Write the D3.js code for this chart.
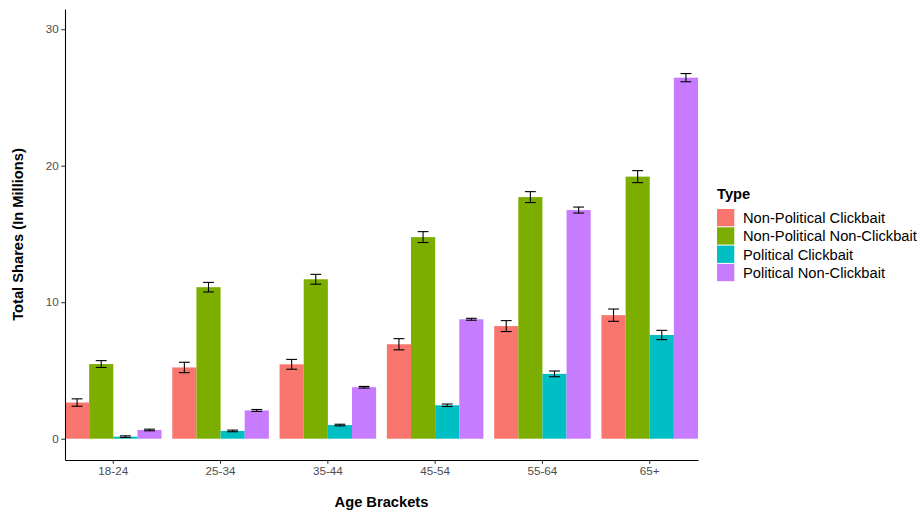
<!DOCTYPE html>
<html>
<head>
<meta charset="utf-8">
<script src="https://cdn.jsdelivr.net/npm/d3@7"></script>
<style>
  html, body { margin: 0; padding: 0; background: #fff; }
  svg { display: block; font-family: "Liberation Sans", Arial, Helvetica, sans-serif; }
</style>
</head>
<body>
<svg id="chart" width="920" height="512"></svg>
<script>
// Age brackets along the x axis
const ages = ["18-24", "25-34", "35-44", "45-54", "55-64", "65+"];
// Content types (legend order)
const types = ["Non-Political Clickbait", "Non-Political Non-Clickbait", "Political Clickbait", "Political Non-Clickbait"];
const typeColors = ["#F8766D", "#7CAE00", "#00BFC4", "#C77CFF"];

// Total shares (millions) per type, one value per age bracket
const nonPolClickbait    = [2.65, 5.22, 5.45, 6.92, 8.25, 9.05];
const nonPolNonClickbait = [5.47, 11.10, 11.68, 14.77, 17.70, 19.20];
const polClickbait       = [0.15, 0.57, 1.00, 2.45, 4.75, 7.60];
const polNonClickbait    = [0.64, 2.07, 3.77, 8.75, 16.75, 26.45];

// Half-width of the error bars (millions)
const errNonPolClickbait    = [0.27, 0.38, 0.36, 0.41, 0.40, 0.45];
const errNonPolNonClickbait = [0.25, 0.35, 0.36, 0.40, 0.40, 0.44];
const errPolClickbait       = [0.06, 0.06, 0.06, 0.09, 0.21, 0.34];
const errPolNonClickbait    = [0.06, 0.07, 0.06, 0.07, 0.22, 0.30];

const yTicks = [0, 10, 20, 30];

const seriesValues = [nonPolClickbait, nonPolNonClickbait, polClickbait, polNonClickbait];
const seriesErrors = [errNonPolClickbait, errNonPolNonClickbait, errPolClickbait, errPolNonClickbait];

const rows = [];
ages.forEach((age, i) => {
  types.forEach((t, j) => {
    rows.push({ age, type: t, value: seriesValues[j][i], err: seriesErrors[j][i], color: typeColors[j] });
  });
});

const svg = d3.select("#chart");
const panel = { left: 65, right: 698, top: 9, bottom: 460 };

const x = d3.scaleBand().domain(ages).range([panel.left, panel.right]).paddingInner(0.1).paddingOuter(0);
const xInner = d3.scaleBand().domain(types).range([0, x.bandwidth()]).padding(0);
const y = d3.scaleLinear().domain([-1.56, 31.48]).range([panel.bottom, panel.top]);

// Bars
svg.append("g").selectAll("rect").data(rows).join("rect")
  .attr("x", d => x(d.age) + xInner(d.type))
  .attr("width", xInner.bandwidth())
  .attr("y", d => y(d.value))
  .attr("height", d => y(0) - y(d.value))
  .attr("fill", d => d.color);

// Error bars
const capHalf = xInner.bandwidth() * 0.225;
const eb = svg.append("g").attr("stroke", "#000").attr("stroke-width", 1.1).attr("fill", "none");
rows.forEach(d => {
  const cx = x(d.age) + xInner(d.type) + xInner.bandwidth() / 2;
  const yHi = y(d.value + d.err), yLo = y(d.value - d.err);
  eb.append("line").attr("x1", cx).attr("x2", cx).attr("y1", yHi).attr("y2", yLo);
  eb.append("line").attr("x1", cx - capHalf).attr("x2", cx + capHalf).attr("y1", yHi).attr("y2", yHi);
  eb.append("line").attr("x1", cx - capHalf).attr("x2", cx + capHalf).attr("y1", yLo).attr("y2", yLo);
});

// Axes
const yAxis = svg.append("g").attr("transform", `translate(${panel.left},0)`)
  .call(d3.axisLeft(y).tickValues(yTicks).tickSize(3.7).tickSizeOuter(0).tickPadding(2.5));
const xAxis = svg.append("g").attr("transform", `translate(0,${panel.bottom})`)
  .call(d3.axisBottom(x).tickSize(3.7).tickSizeOuter(0).tickPadding(2.5));

[yAxis, xAxis].forEach(g => {
  g.select(".domain").attr("stroke", "#000").attr("stroke-width", 1.07);
  g.selectAll(".tick line").attr("stroke", "#333").attr("stroke-width", 1.07);
  g.selectAll(".tick text").attr("fill", "#4D4D4D").style("font-size", "11.7px")
    .style("font-family", '"Liberation Sans", Arial, sans-serif');
});

// Axis titles
svg.append("text")
  .attr("x", (panel.left + panel.right) / 2).attr("y", 507)
  .attr("text-anchor", "middle").style("font-size", "14.7px").style("font-weight", "bold")
  .text("Age Brackets");

svg.append("text")
  .attr("transform", `translate(23,${(panel.top + panel.bottom) / 2}) rotate(-90)`)
  .attr("text-anchor", "middle").style("font-size", "14.7px").style("font-weight", "bold")
  .text("Total Shares (In Millions)");

// Legend
const legend = svg.append("g").attr("transform", "translate(717,0)");
legend.append("text").attr("x", 0).attr("y", 199)
  .style("font-size", "14.7px").style("font-weight", "bold").text("Type");
types.forEach((t, j) => {
  const top = 209 + j * 18.3;
  legend.append("rect").attr("x", 0).attr("y", top).attr("width", 17.3).attr("height", 17.3)
    .attr("fill", typeColors[j]);
  legend.append("text").attr("x", 26).attr("y", top + 14)
    .style("font-size", "14.7px").text(t);
});
</script>
</body>
</html>
